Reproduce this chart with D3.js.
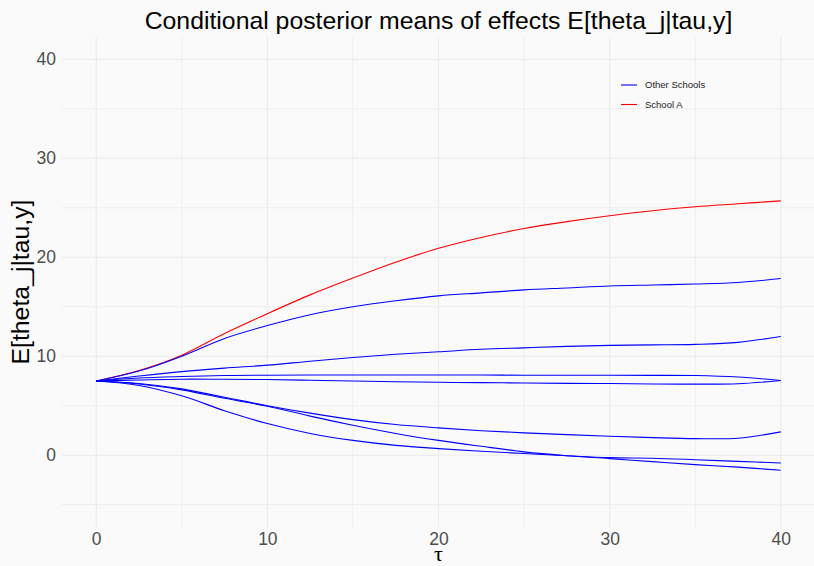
<!DOCTYPE html>
<html>
<head>
<meta charset="utf-8">
<script src="https://cdn.jsdelivr.net/npm/d3@7"></script>
<style>
  html, body { margin: 0; padding: 0; background: #FAFAFA; }
  svg { display: block; }
</style>
</head>
<body>
<svg id="chart" width="814" height="566"></svg>
<script>
// ---- data ----
const tau = [0, 2.5, 5, 7.5, 10, 12.5, 15, 17.5, 20, 22.5, 25, 27.5, 30, 32.5, 35, 37.5, 40];
const schoolA = [7.5, 8.55, 10.1, 12.3, 14.3, 16.2, 17.9, 19.5, 20.9, 22.0, 22.9, 23.6, 24.2, 24.7, 25.1, 25.4, 25.7];
const schoolG = [7.5, 8.5, 10.0, 11.8, 13.1, 14.2, 15.0, 15.6, 16.1, 16.4, 16.7, 16.9, 17.1, 17.2, 17.3, 17.45, 17.85];
const schoolH = [7.5, 8.0, 8.45, 8.8, 9.1, 9.5, 9.87, 10.2, 10.45, 10.7, 10.85, 11.0, 11.1, 11.15, 11.2, 11.4, 12.0];
const schoolB = [7.5, 7.8, 7.95, 8.05, 8.08, 8.1, 8.1, 8.1, 8.1, 8.1, 8.08, 8.08, 8.08, 8.07, 8.05, 7.9, 7.55];
const schoolD = [7.5, 7.6, 7.68, 7.67, 7.65, 7.57, 7.5, 7.43, 7.37, 7.33, 7.3, 7.26, 7.24, 7.2, 7.18, 7.22, 7.55];
const schoolF = [7.5, 7.25, 6.7, 5.85, 5.0, 4.25, 3.6, 3.1, 2.76, 2.48, 2.26, 2.08, 1.92, 1.78, 1.68, 1.72, 2.36];
const schoolC = [7.5, 7.2, 6.6, 5.75, 4.95, 3.95, 3.03, 2.2, 1.5, 0.9, 0.34, -0.05, -0.34, -0.65, -0.95, -1.2, -1.52];
const schoolE = [7.5, 7.05, 6.0, 4.5, 3.2, 2.2, 1.5, 1.0, 0.67, 0.4, 0.17, -0.05, -0.24, -0.3, -0.45, -0.62, -0.78];
const otherSchools = [schoolB, schoolC, schoolD, schoolE, schoolF, schoolG, schoolH];
const xTicks = [0, 10, 20, 30, 40];
const yTicks = [0, 10, 20, 30, 40];
const xMinor = [5, 15, 25, 35];
const yMinor = [-5, 5, 15, 25, 35];
const legendLabels = ["Other Schools", "School A"];
const legendColors = ["#0000FF", "#FF0000"];
const titleText = "Conditional posterior means of effects E[theta_j|tau,y]";
const yLabel = "E[theta_j|tau,y]";
const xLabel = "\u03C4";

// ---- layout ----
const svg = d3.select("#chart");
const W = 814, H = 566;
const panel = { left: 62, right: 815, top: 37, bottom: 527 };

const x = d3.scaleLinear().domain([-2, 42]).range([panel.left, panel.right]);
const y = d3.scaleLinear().domain([-7.25, 42.25]).range([panel.bottom, panel.top]);

svg.append("rect").attr("width", W).attr("height", H).attr("fill", "#FAFAFA");

const grid = svg.append("g");
grid.selectAll("line.ym").data(yMinor).join("line")
  .attr("x1", panel.left).attr("x2", W)
  .attr("y1", d => y(d)).attr("y2", d => y(d))
  .attr("stroke", "#EEEEEE").attr("stroke-width", 1);
grid.selectAll("line.xm").data(xMinor).join("line")
  .attr("y1", panel.top).attr("y2", panel.bottom)
  .attr("x1", d => x(d)).attr("x2", d => x(d))
  .attr("stroke", "#EEEEEE").attr("stroke-width", 1);
grid.selectAll("line.yM").data(yTicks).join("line")
  .attr("x1", panel.left).attr("x2", W)
  .attr("y1", d => y(d)).attr("y2", d => y(d))
  .attr("stroke", "#EBEBEB").attr("stroke-width", 1.1);
grid.selectAll("line.xM").data(xTicks).join("line")
  .attr("y1", panel.top).attr("y2", panel.bottom)
  .attr("x1", d => x(d)).attr("x2", d => x(d))
  .attr("stroke", "#EBEBEB").attr("stroke-width", 1.1);

// axes via d3 axis generators (labels only)
const xAxis = svg.append("g").attr("transform", `translate(0,${panel.bottom})`)
  .call(d3.axisBottom(x).tickValues(xTicks).tickSize(0).tickPadding(6).tickFormat(d3.format("d")));
xAxis.select(".domain").remove();
xAxis.selectAll("text").attr("font-family", "Liberation Sans, Arial, sans-serif")
  .attr("font-size", "17.5px").attr("fill", "#4D4D4D");

const yAxis = svg.append("g").attr("transform", `translate(${panel.left - 6},0)`)
  .call(d3.axisLeft(y).tickValues(yTicks).tickSize(0).tickPadding(0).tickFormat(d3.format("d")));
yAxis.select(".domain").remove();
yAxis.selectAll("text").attr("font-family", "Liberation Sans, Arial, sans-serif")
  .attr("font-size", "17.5px").attr("fill", "#4D4D4D");

// lines
const line = d3.line().x((d, i) => x(tau[i])).y(d => y(d)).curve(d3.curveCatmullRom.alpha(0.5));
svg.append("path").datum(schoolA).attr("d", line)
  .attr("fill", "none").attr("stroke", "#FF0000").attr("stroke-width", 1.1);
svg.selectAll("path.other").data(otherSchools).join("path").attr("class", "other")
  .attr("d", line).attr("fill", "none").attr("stroke", "#0000FF").attr("stroke-width", 1.1);

// title
svg.append("text").attr("x", (panel.left + panel.right) / 2).attr("y", 29)
  .attr("text-anchor", "middle").attr("font-family", "Liberation Sans, Arial, sans-serif")
  .attr("font-size", "24.8px").attr("fill", "#000").text(titleText);

// axis labels
svg.append("text").attr("transform", `translate(29,${(panel.top + panel.bottom) / 2}) rotate(-90)`)
  .attr("text-anchor", "middle").attr("font-family", "Liberation Sans, Arial, sans-serif")
  .attr("font-size", "24.8px").attr("fill", "#000").text(yLabel);
svg.append("text").attr("x", (panel.left + panel.right) / 2).attr("y", 561)
  .attr("text-anchor", "middle").attr("font-family", "Liberation Serif, DejaVu Serif, serif")
  .attr("font-size", "22px").attr("fill", "#000").text(xLabel);

// legend
const leg = svg.append("g").attr("transform", "translate(621,85)");
const items = leg.selectAll("g").data(legendLabels).join("g")
  .attr("transform", (d, i) => `translate(0,${i * 19.5})`);
items.append("line").attr("x1", 0).attr("x2", 16).attr("y1", 0).attr("y2", 0)
  .attr("stroke", (d, i) => legendColors[i]).attr("stroke-width", 1.1);
items.append("text").attr("x", 24).attr("y", 0).attr("dy", "0.35em")
  .attr("font-family", "Liberation Sans, Arial, sans-serif").attr("font-size", "9.5px")
  .attr("fill", "#1A1A1A").text(d => d);
</script>
</body>
</html>
